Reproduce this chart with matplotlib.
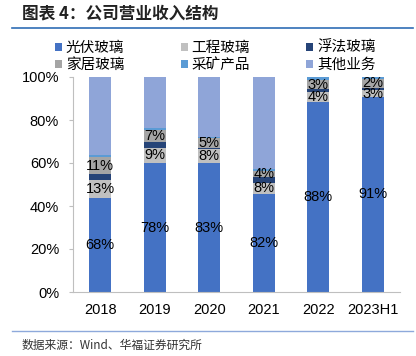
import numpy as np
import matplotlib
matplotlib.use("Agg")
import matplotlib.pyplot as plt
from matplotlib.lines import Line2D

plt.rcParams['font.family'] = ['Liberation Sans', 'Noto Sans CJK SC', 'DejaVu Sans']

# categories and segment shares (bar heights, %)
years = ["2018", "2019", "2020", "2021", "2022", "2023H1"]
series = ["光伏玻璃", "工程玻璃", "浮法玻璃", "家居玻璃", "采矿产品", "其他业务"]
pv       = [43.5, 60.0, 60.0, 45.8, 88.5, 90.7]
eng      = [8.5, 7.1, 6.4, 5.0, 4.6, 3.1]
floatg   = [3.0, 2.7, 0.5, 2.8, 1.3, 1.1]
home     = [7.6, 5.4, 4.5, 2.6, 4.2, 4.2]
mining   = [1.2, 1.0, 0.8, 0.8, 1.4, 0.9]
other    = [36.2, 23.8, 27.8, 43.0, 0.0, 0.0]
# data label texts printed on the bars
pv_lbl   = ["68%", "78%", "83%", "82%", "88%", "91%"]
eng_lbl  = ["13%", "9%", "8%", "8%", "4%", "3%"]
home_lbl = ["11%", "7%", "5%", "4%", "3%", "2%"]

colors = ["#4472C4", "#C0C0C0", "#264478", "#A5A5A5", "#5B9BD5", "#8FA5D8"]

fig = plt.figure(figsize=(4.16, 3.56), dpi=100)
ax = fig.add_axes([73/416, 1 - 292/356, 327/416, 215/356])

x = np.arange(len(years))
layers = [pv, eng, floatg, home, mining, other]
bottom = np.zeros(len(years))
bars = []
for vals, c, name in zip(layers, colors, series):
    ax.bar(x, vals, width=0.4, bottom=bottom, color=c, label=name, linewidth=0)
    bars.append((np.array(vals), bottom.copy()))
    bottom += np.array(vals)

# labels centred in their segments
for idx, lbls in [(0, pv_lbl), (1, eng_lbl), (3, home_lbl)]:
    vals, bot = bars[idx]
    for xi, v, b0, t in zip(x, vals, bot, lbls):
        ax.text(xi, b0 + v / 2, t, ha="center", va="center", fontsize=10.5, color="black")

ax.set_xlim(-0.5, len(years) - 0.5)
ax.set_ylim(0, 100)
ax.set_yticks(np.arange(0, 101, 20))
ax.set_yticklabels([f"{v}%" for v in range(0, 101, 20)])
ax.set_xticks(x)
ax.set_xticklabels(years)
ax.tick_params(axis="y", length=3, color="#BFBFBF", labelsize=10.5, pad=7)
ax.tick_params(axis="x", length=0, labelsize=10.5, pad=8)
for s in ["top", "right"]:
    ax.spines[s].set_visible(False)
for s in ["left", "bottom"]:
    ax.spines[s].set_color("#BFBFBF")
    ax.spines[s].set_linewidth(0.8)

# legend: 3 columns x 2 rows, row-major as in the source
h, l = ax.get_legend_handles_labels()
order = [0, 3, 1, 4, 2, 5]
fig.legend([h[i] for i in order], [l[i] for i in order], ncol=3,
           loc="upper left", bbox_to_anchor=(55/416, 1 - 41/356),
           frameon=False, handlelength=0.5, handleheight=0.5,
           handletextpad=0.25, columnspacing=3.85, labelspacing=0.2,
           borderpad=0, borderaxespad=0,
           prop={'family': ['Noto Sans CJK SC'], 'size': 10.5})

# title, rules and source
fig.text(22/416, 1 - 13/356, "图表 4：公司营业收入结构", fontsize=12, fontweight="bold",
         va="center", ha="left", family=["Noto Sans CJK SC"], color="#222222")
fig.add_artist(Line2D([12/416, 413/416], [1 - 28/356, 1 - 28/356], color="#2F6DB5", linewidth=1.2))
fig.add_artist(Line2D([12/416, 413/416], [1 - 331/356, 1 - 331/356], color="#8EA9DB", linewidth=1.0))
fig.text(22/416, 1 - 345/356, "数据来源：Wind、华福证券研究所", fontsize=8.5,
         va="center", ha="left", family=["Noto Sans CJK SC", "Liberation Sans"], color="#333333")

fig.savefig("out.png", dpi=100)
